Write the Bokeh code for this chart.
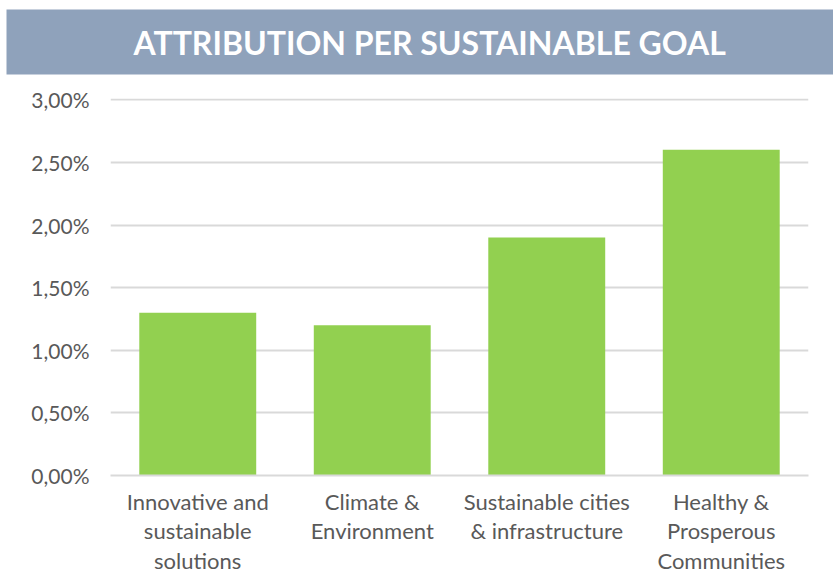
from bokeh.plotting import figure
from bokeh.models import FactorRange, Range1d, FixedTicker, CustomJSTickFormatter, ColumnDataSource, Title
from bokeh.embed import file_html
from bokeh.resources import INLINE

title_text = "ATTRIBUTION PER SUSTAINABLE GOAL"
categories = ["Innovative and\nsustainable\nsolutions", "Climate &\nEnvironment",
              "Sustainable cities\n& infrastructure", "Healthy &\nProsperous\nCommunities"]
values = [1.30, 1.20, 1.90, 2.60]  # percent
y_ticks = [0, 0.5, 1.0, 1.5, 2.0, 2.5, 3.0]

FONT = "Lato"
GREY = "#595959"
BANNER = "#8fa2bb"

src = ColumnDataSource(dict(cat=categories, val=values))
p = figure(width=833, height=578, x_range=FactorRange(*categories), y_range=Range1d(0, 3.01),
           toolbar_location=None, output_backend="svg",
           min_border_left=110, min_border_right=25, min_border_top=97, min_border_bottom=103)
p.vbar(x="cat", top="val", width=0.67, source=src, color="#92d050", line_color=None)

# spacer between frame and title banner
p.add_layout(Title(text=" ", text_font=FONT, text_font_size="10px", standoff=3), "above")

# Title banner
p.title.text = title_text
p.title.align = "left"
p.title.offset = -104
p.title.text_color = "white"
p.title.text_font = FONT
p.title.text_font_style = "bold"
p.title.text_font_size = "32px"
p.title.background_fill_color = BANNER
p.title.background_fill_alpha = 1.0
p.title.padding = dict(left=127, right=111, top=13, bottom=13)
p.title.standoff = 14

p.outline_line_color = None
p.xgrid.grid_line_color = None
p.ygrid.grid_line_color = "#d9d9d9"
p.ygrid.grid_line_width = 2
p.yaxis.ticker = FixedTicker(ticks=y_ticks)
p.yaxis.formatter = CustomJSTickFormatter(code="return tick.toFixed(2).replace('.', ',') + '%';")
p.yaxis.axis_line_color = None
p.yaxis.major_tick_line_color = None
p.yaxis.minor_tick_line_color = None
p.yaxis.major_label_standoff = 15
p.yaxis.major_label_text_font = FONT
p.yaxis.major_label_text_font_size = "21px"
p.yaxis.major_label_text_color = GREY

p.xaxis.axis_line_color = "#d9d9d9"
p.xaxis.axis_line_width = 2
p.xaxis.major_tick_line_color = None
p.xaxis.minor_tick_line_color = None
p.xaxis.major_label_standoff = 6
p.xaxis.major_label_text_font = FONT
p.xaxis.major_label_text_font_size = "22px"
p.xaxis.major_label_text_color = GREY
p.xaxis.major_label_text_line_height = 1.11
p.x_range.range_padding = 0
p.x_range.group_padding = 0
p.x_range.factor_padding = 0

open("out.html", "w").write(file_html(p, INLINE))
